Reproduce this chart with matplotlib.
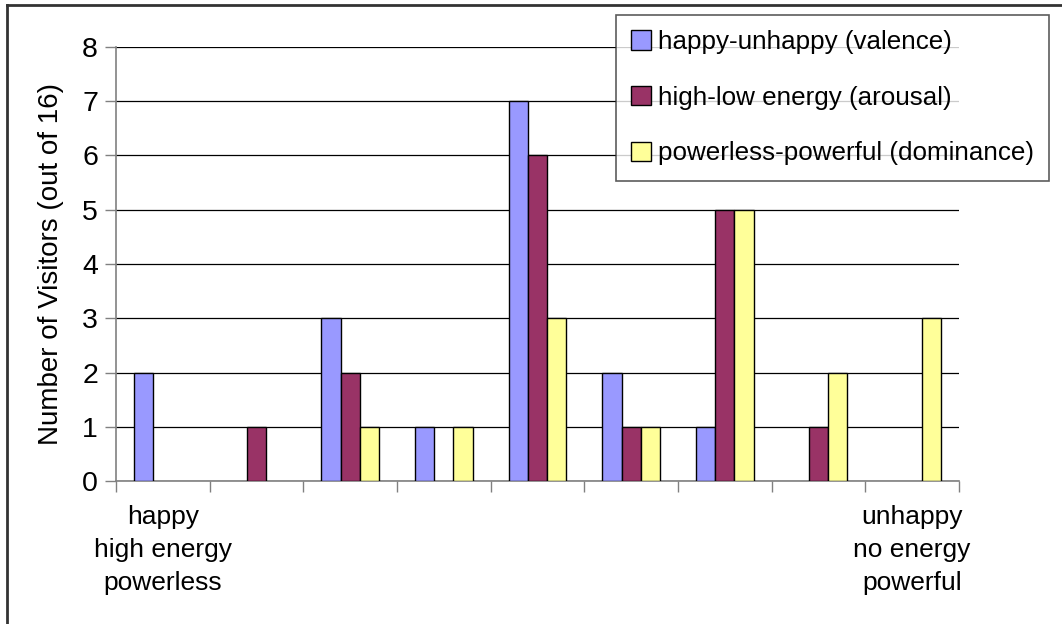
import numpy as np
import matplotlib.pyplot as plt
from matplotlib.lines import Line2D

plt.rcParams['font.family'] = ['Liberation Sans', 'DejaVu Sans']

# Antworten je Stufe der Skala (9 Stufen)
valence = [2, 0, 3, 1, 7, 2, 1, 0, 0]
arousal = [0, 1, 2, 0, 6, 1, 5, 1, 0]
dominance = [0, 0, 1, 1, 3, 1, 5, 2, 3]
series_names = ['happy-unhappy (valence)',
                'high-low energy (arousal)',
                'powerless-powerful (dominance)']
tick_labels = ['happy\nhigh energy\npowerless', '', '', '', '', '', '', '',
               'unhappy\nno energy\npowerful']
colors = ['#9999FF', '#993366', '#FFFF99']

W, H = 1062, 624
fig = plt.figure(figsize=(W / 100, H / 100), dpi=100)
ax = fig.add_axes([116 / W, 1 - 481.3 / H, (959 - 116) / W, (481.3 - 46.7) / H])

x = np.arange(len(valence))
bw = 0.205
for i, (vals, c, name) in enumerate(zip([valence, arousal, dominance], colors, series_names)):
    bars = ax.bar(x + (i - 1) * bw, vals, width=bw, color=c, edgecolor='black',
                  linewidth=1.0, label=name, zorder=3)
    # leere Balken nicht als Strich zeichnen
    for b, v in zip(bars, vals):
        if v == 0:
            b.set_visible(False)

ax.set_xlim(-0.5, len(valence) - 0.5)
ax.set_ylim(0, 8)
ax.set_yticks(range(0, 9))
ax.tick_params(axis='y', labelsize=20.5, length=8, width=1, color='#808080', pad=5)
ax.yaxis.grid(True, color='black', linewidth=0.9, zorder=0)
ax.set_axisbelow(True)

# Striche zwischen den Kategorien, Beschriftung nur an den Enden
ax.set_xticks(np.arange(-0.5, len(valence)), minor=False)
ax.set_xticklabels([])
ax.tick_params(axis='x', length=8, width=1, color='#808080')
ax.set_xticks(x, minor=True)
ax.set_xticklabels(tick_labels, minor=True, fontsize=19, linespacing=1.47)
ax.tick_params(axis='x', which='minor', length=0, pad=17)

for s in ['top', 'right']:
    ax.spines[s].set_visible(False)
for s in ['left', 'bottom']:
    ax.spines[s].set_color('#808080')
    ax.spines[s].set_linewidth(1.2)

ax.set_ylabel('Number of Visitors (out of 16)', fontsize=20, labelpad=13)

handles = [plt.Rectangle((0, 0), 1, 1, facecolor=c, edgecolor='black', linewidth=1)
           for c in colors]
leg = fig.legend(handles, series_names, loc='upper left',
                 bbox_to_anchor=(616 / W, 1 - 15 / H), fontsize=18.7,
                 frameon=True, fancybox=False, edgecolor='#333333',
                 handlelength=0.75, handleheight=0.75, handletextpad=0.3,
                 labelspacing=1.22, borderpad=0.58, borderaxespad=0)
leg.get_frame().set_linewidth(1.2)

# Rahmen um das Diagramm
fig.add_artist(Line2D([7 / W, 7 / W], [0, 1 - 4.5 / H], transform=fig.transFigure,
                      color='#333333', linewidth=2))
fig.add_artist(Line2D([7 / W, 1], [1 - 4.5 / H, 1 - 4.5 / H], transform=fig.transFigure,
                      color='#333333', linewidth=2))

fig.savefig('out.png', dpi=100)
